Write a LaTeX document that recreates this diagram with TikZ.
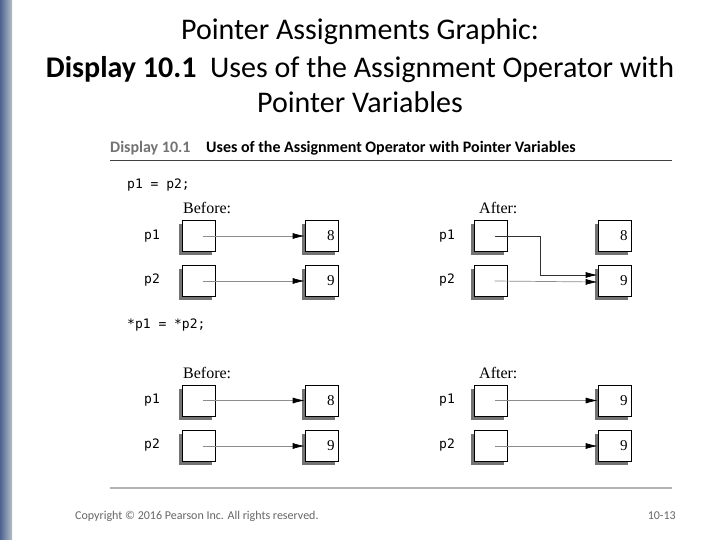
\documentclass[tikz,border=0pt]{standalone}
\usepackage{fontspec}
\setmainfont{Carlito}
\newfontfamily\codefont{DejaVu Sans Mono}
\newfontfamily\bookserif{Liberation Serif}
\usetikzlibrary{arrows.meta,shadows}
\definecolor{barblue}{HTML}{4E6290}
\definecolor{bargray}{HTML}{B4BEC8}
\tikzset{
  cell/.style={draw, fill=white, line width=0.6pt, minimum height=31pt,
    text width=26pt, inner xsep=3.5pt, inner ysep=0pt, align=right,
    font=\bookserif\fontsize{15}{15}\selectfont,
    drop shadow={shadow xshift=-3.5pt, shadow yshift=-3.5pt, fill=black!55, draw=none, opacity=1}},
  ptr/.style={draw=black!45, line width=0.7pt, -{Latex[length=12pt,width=6pt,color=black]}},
  ptrdark/.style={draw=black!80, line width=0.8pt, -{Latex[length=12pt,width=6pt,color=black]}},
  var/.style={font=\codefont\fontsize{13}{13}\selectfont, anchor=center},
  code/.style={font=\codefont\fontsize{13}{13}\selectfont, anchor=west},
  phase/.style={font=\bookserif\fontsize{16}{16}\selectfont, anchor=west},
}
\begin{document}
\begin{tikzpicture}[x=1pt,y=-1pt]
\useasboundingbox (0,0) rectangle (720,540);
\fill[white] (0,0) rectangle (720,540);
% left bar
\shade[left color=barblue, right color=bargray] (0,0) rectangle (12,540);
% title
\node[font=\fontsize{30}{30}\selectfont] (t1) at (360,32) {Pointer Assignments Graphic:};
\node[font=\fontsize{30}{30}\selectfont] (t2) at (360,70) {\textbf{Display 10.1}\ \ Uses of the Assignment Operator with};
\node[font=\fontsize{30}{30}\selectfont] (t3) at (360,102) {Pointer Variables};
% display header
\node[anchor=west, inner sep=0, font=\bfseries\fontsize{16}{16}\selectfont, text=black!55] (dh) at (110,148) {Display 10.1};
\node[anchor=west, inner sep=0, font=\bfseries\fontsize{16}{16}\selectfont] (dt) at (206,148) {Uses of the Assignment Operator with Pointer Variables};
\draw[black!75, line width=1pt] (110,161) -- (672,161);
% first section
\node[code, inner sep=0] (c1) at (127,185) {p1 = p2;};
\node[phase, inner sep=0] (b1) at (183,208) {Before:};
\node[phase, inner sep=0] (f1) at (479,208) {After:};
\node[var] (v1) at (152,236) {p1};
\node[var] (v2) at (152,280) {p2};
\node[var] (v3) at (447,236) {p1};
\node[var] (v4) at (447,280) {p2};
\node[cell] (s1l) at (198.5,236) {};
\node[cell] (s1r) at (321.5,236) {8};
\node[cell] (s2l) at (198.5,281) {};
\node[cell] (s2r) at (321.5,281) {9};
\node[cell] (a1l) at (490.5,236) {};
\node[cell] (a1r) at (614.5,236) {8};
\node[cell] (a2l) at (490.5,281) {};
\node[cell] (a2r) at (614.5,281) {9};
\draw[ptr] ([xshift=4pt]s1l.center) -- (s1r.west);
\draw[ptr] ([xshift=4pt]s2l.center) -- (s2r.west);
\coordinate (bx) at (536,0);
\draw[ptrdark] ([xshift=4pt]a1l.center) -- ([xshift=4pt]a1l.center -| bx) |- ([yshift=6pt]a2r.west);
\draw[ptr] ([xshift=4pt]a2l.center) -- ([yshift=-1pt]a2r.west);
% second section
\node[code, inner sep=0] (c2) at (127,325) {*p1 = *p2;};
\node[phase, inner sep=0] (b2) at (183,373) {Before:};
\node[phase, inner sep=0] (f2) at (479,373) {After:};
\node[var] (w1) at (152,400) {p1};
\node[var] (w2) at (152,445) {p2};
\node[var] (w3) at (447,400) {p1};
\node[var] (w4) at (447,445) {p2};
\node[cell] (t1l) at (198.5,400.5) {};
\node[cell] (t1r) at (321.5,400.5) {8};
\node[cell] (t2l) at (198.5,446) {};
\node[cell] (t2r) at (321.5,446) {9};
\node[cell] (u1l) at (490.5,400.5) {};
\node[cell] (u1r) at (614.5,400.5) {9};
\node[cell] (u2l) at (490.5,446) {};
\node[cell] (u2r) at (614.5,446) {9};
\draw[ptr] ([xshift=4pt]t1l.center) -- (t1r.west);
\draw[ptr] ([xshift=4pt]t2l.center) -- (t2r.west);
\draw[ptr] ([xshift=4pt]u1l.center) -- (u1r.west);
\draw[ptr] ([xshift=4pt]u2l.center) -- (u2r.west);
\draw[black!30, line width=2pt] (110,488) -- (672,488);
% footer
\node[anchor=west, inner sep=0, text=black!60, font=\fontsize{12}{12}\selectfont] (cp) at (75,516) {Copyright © 2016 Pearson Inc. All rights reserved.};
\node[anchor=east, inner sep=0, text=black!60, font=\fontsize{12}{12}\selectfont] (pg) at (676,516) {10-13};
\end{tikzpicture}
\end{document}
